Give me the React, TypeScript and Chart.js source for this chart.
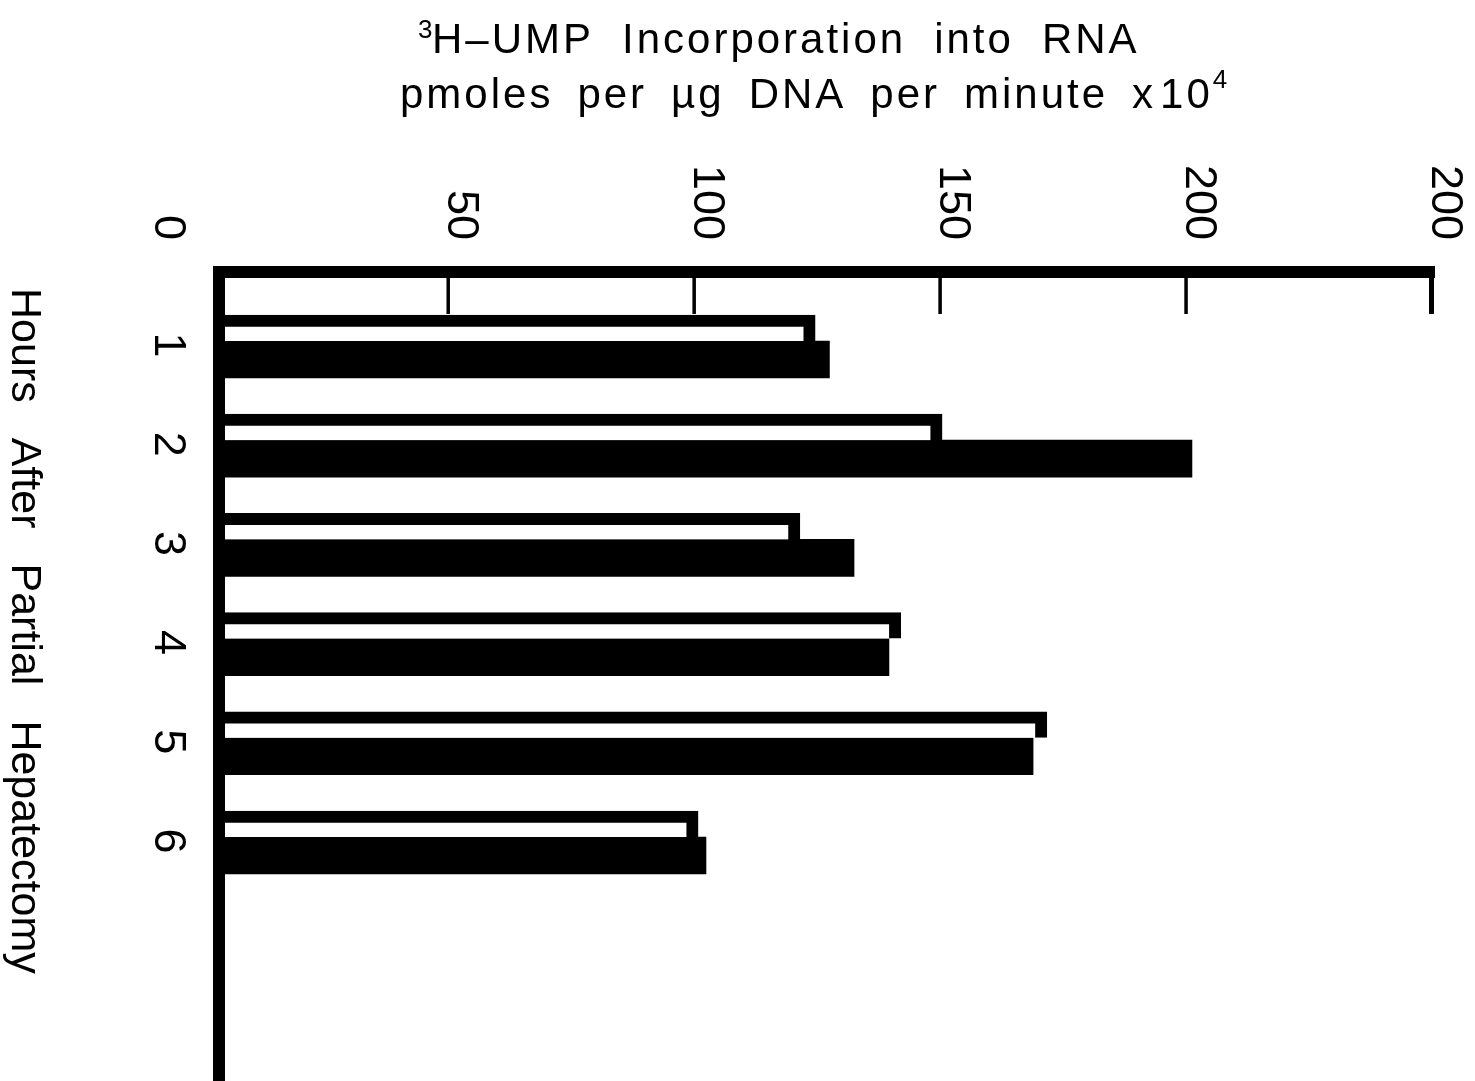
import React, { useEffect, useRef } from 'react';
import { Chart, registerables } from 'chart.js';

Chart.register(...registerables);

// Hours after partial hepatectomy (one pair of bars per hour)
const hours = [1, 2, 3, 4, 5, 6];
// Open (outlined) bars
const openValues = [124.6, 150.4, 121.5, 142.0, 171.7, 100.8];
// Solid bars
const solidValues = [127.5, 201.2, 132.5, 139.6, 168.9, 102.4];

// Value axis ticks (the last label is printed as "200" on the figure)
const xTickValues = [0, 50, 100, 150, 200, 250];
const xTickLabels = ['0', '50', '100', '150', '200', '200'];

const titleLine1 = ['H\u2013UMP', 'Incorporation', 'into', 'RNA'];
const titleLine2 = ['pmoles', 'per', '\u00b5g', 'DNA', 'per', 'minute'];
const yTitleWords = ['Hours', 'After', 'Partial', 'Hepatectomy'];

const INK = '#000000';
const FONT = '"Liberation Sans", Arial, Helvetica, sans-serif';

function drawWords(ctx: CanvasRenderingContext2D, words: string[], x: number, y: number, gap: number): number {
  let cx = x;
  words.forEach((w, i) => {
    ctx.fillText(w, cx, y);
    cx += ctx.measureText(w).width;
    if (i < words.length - 1) cx += gap;
  });
  return cx;
}

const figurePlugin = {
  id: 'figureFrame',
  afterDatasetsDraw(chart: any) {
    const { ctx, chartArea: a, scales } = chart;
    const xs = scales.x;
    const ys = scales.y;
    const axisW = 12;

    ctx.save();
    ctx.fillStyle = INK;

    // axis lines: value axis along the top, hour axis down the left
    ctx.fillRect(a.left - axisW / 2, a.top - axisW / 2, a.right - a.left + axisW / 2 + 3, axisW);
    ctx.fillRect(a.left - axisW / 2, a.top - axisW / 2, axisW, a.bottom - a.top + axisW / 2);

    // inward tick marks
    xTickValues.forEach((v, i) => {
      if (v === 0) return;
      const px = xs.getPixelForValue(v);
      const last = i === xTickValues.length - 1;
      const tw = last ? 5 : 3.5;
      ctx.fillRect(last ? px - 3 : px - tw / 2, a.top, tw, 42);
    });

    // value tick labels, rotated to read downwards
    ctx.font = `45px ${FONT}`;
    ctx.textAlign = 'right';
    ctx.textBaseline = 'middle';
    xTickValues.forEach((v, i) => {
      const px = xs.getPixelForValue(v);
      const cx = v === 0 ? a.left - 52 : px + 12;
      ctx.save();
      ctx.translate(cx, a.top - 32);
      ctx.rotate(Math.PI / 2);
      ctx.fillText(xTickLabels[i], 0, 0);
      ctx.restore();
    });

    // hour labels
    ctx.textAlign = 'center';
    hours.forEach((h) => {
      const py = ys.getPixelForValue(h) + 4;
      ctx.save();
      ctx.translate(a.left - 52, py);
      ctx.rotate(Math.PI / 2);
      ctx.fillText(String(h), 0, 0);
      ctx.restore();
    });

    // hour axis title
    ctx.font = `43px ${FONT}`;
    ctx.textAlign = 'left';
    ctx.textBaseline = 'alphabetic';
    ctx.save();
    ctx.translate(12, 288);
    ctx.rotate(Math.PI / 2);
    drawWords(ctx, yTitleWords, 0, 0, 35);
    ctx.restore();

    // value axis title (two lines above the chart)
    ctx.save();
    ctx.textAlign = 'left';
    ctx.textBaseline = 'alphabetic';
    (ctx as any).letterSpacing = '3px';
    ctx.font = `26px ${FONT}`;
    ctx.fillText('3', 418, 38);
    ctx.font = `42px ${FONT}`;
    drawWords(ctx, titleLine1, 432, 53, 28);
    let end = drawWords(ctx, titleLine2, 400, 108, 24);
    end += 24;
    ctx.fillText('x', end, 108);
    end += ctx.measureText('x').width + 4;
    ctx.fillText('10', end, 108);
    end += ctx.measureText('10').width;
    ctx.font = `26px ${FONT}`;
    ctx.fillText('4', end, 88);
    ctx.restore();

    ctx.restore();
  },
};

export default function App() {
  const canvasRef = useRef<HTMLCanvasElement | null>(null);

  useEffect(() => {
    document.body.style.margin = '0';
    document.body.style.overflow = 'hidden';
    const canvas = canvasRef.current;
    if (!canvas) return;

    const chart = new Chart(canvas, {
      type: 'bar',
      data: {
        datasets: [
          {
            label: 'open',
            data: hours.map((h, i) => ({ x: openValues[i], y: h })),
            backgroundColor: '#ffffff',
            borderColor: INK,
            borderWidth: { top: 12, right: 12, bottom: 0, left: 0 },
            borderSkipped: false,
            barThickness: 26,
            clip: 0,
          },
          {
            label: 'solid',
            data: hours.map((h, i) => ({ x: solidValues[i], y: h })),
            backgroundColor: INK,
            borderWidth: 0,
            barThickness: 37,
            clip: 0,
          },
        ],
      },
      options: {
        indexAxis: 'y',
        animation: false,
        responsive: false,
        devicePixelRatio: 1,
        layout: { padding: { left: 219, top: 272, right: 43, bottom: 0 } },
        scales: {
          x: { type: 'linear', display: false, min: 3.4, max: 250 },
          y: { type: 'linear', display: false, offset: false, min: 0.3044, max: 8.46, reverse: true },
        },
        plugins: {
          legend: { display: false },
          tooltip: { enabled: false },
        },
      } as any,
      plugins: [figurePlugin],
    } as any);

    return () => chart.destroy();
  }, []);

  return (
    <div style={{ position: 'absolute', left: 0, top: 0, width: 1475, height: 1081, background: '#ffffff' }}>
      <canvas ref={canvasRef} width={1475} height={1081} style={{ display: 'block' }} />
    </div>
  );
}
